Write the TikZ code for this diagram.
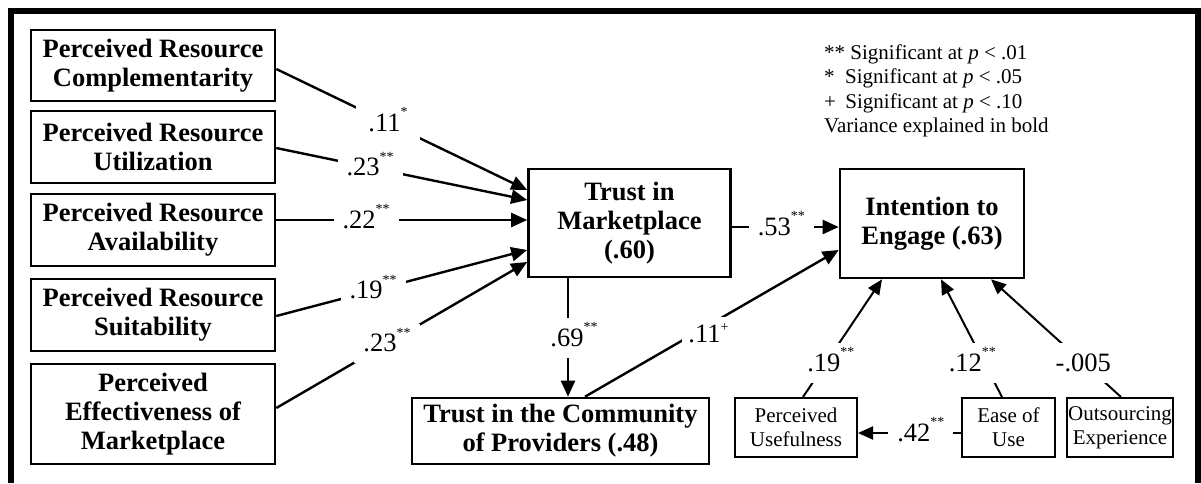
\documentclass[tikz,border=0pt]{standalone}
\usepackage{fontspec}
\setmainfont{Liberation Serif}
\usetikzlibrary{arrows.meta,calc}
\newcommand{\sigmark}[1]{\raisebox{14.5pt}{\fontsize{14}{14}\selectfont #1}\rule[-7pt]{0pt}{7pt}}
\newcommand{\plusmark}{\raisebox{11pt}{\fontsize{14}{14}\selectfont +}}
\begin{document}
\begin{tikzpicture}[x=1pt,y=-1pt,
  bigbox/.style={draw, line width=2.6pt, align=center, font=\bfseries\fontsize{26.5}{29}\selectfont, inner sep=0pt},
  smallbox/.style={draw, line width=2pt, align=center, font=\fontsize{21}{23.7}\selectfont, inner sep=0pt},
  conn/.style={line width=2.4pt, -{Triangle[length=16pt,width=14pt]}},
  thinconn/.style={line width=2pt, -{Triangle[length=15pt,width=13pt]}},
  lbl/.style={fill=white, font=\fontsize{26.5}{29}\selectfont, inner xsep=9pt, inner ysep=4pt},
  vlbl/.style={fill=white, font=\fontsize{26.5}{29}\selectfont, inner xsep=3pt, inner ysep=5pt},
  legend/.style={font=\fontsize{21}{24}\selectfont, anchor=base west, inner sep=0pt},
]
\useasboundingbox (0,0) rectangle (1201,483);
\fill[white] (0,0) rectangle (1201,483);
% frame (open at the bottom)
\draw[line width=5.5pt, line join=miter] (10.8,483) -- (10.8,10.8) -- (1198,10.8) -- (1198,483);

% boxes
\node[bigbox, minimum width=244pt, minimum height=71pt] (B1) at (153,65.5) {Perceived Resource\\Complementarity};
\node[bigbox, minimum width=244pt, minimum height=72pt] (B2) at (153,147) {Perceived Resource\\Utilization};
\node[bigbox, minimum width=244pt, minimum height=72pt] (B3) at (153,230) {Perceived Resource\\Availability};
\node[bigbox, minimum width=244pt, minimum height=72pt] (B4) at (153,315) {Perceived Resource\\Suitability};
\node[bigbox, minimum width=244pt, minimum height=100pt] (B5) at (153,414) {Perceived\\Effectiveness of\\Marketplace};
\node[bigbox, minimum width=202pt, minimum height=108pt] (TM) at (629.5,223) {Trust in\\Marketplace\\(.60)};
\node[bigbox, minimum width=184pt, minimum height=109pt] (IE) at (932,223.5) {Intention to\\Engage (.63)};
\node[bigbox, minimum width=297pt, minimum height=66pt] (TC) at (560.5,431) {Trust in the Community\\of Providers (.48)};
\node[smallbox, minimum width=122pt, minimum height=59pt] (PU) at (796,427.5) {Perceived\\Usefulness};
\node[smallbox, minimum width=93pt, minimum height=59pt] (EU) at (1008.5,427.5) {Ease of\\Use};
\node[smallbox, minimum width=106pt, minimum height=59pt] (OE) at (1120,427.5) {Outsourcing\\Experience};

% connectors
\draw[conn] ($(B1.east)+(0,3.5)$) -- node[lbl,pos=.445,inner xsep=12pt]{.11\sigmark{*}} ($(TM.west)+(0,-33)$);
\draw[conn] ($(B2.east)+(0,1)$) -- node[lbl,pos=.374]{.23\sigmark{**}} ($(TM.west)+(0,-23)$);
\draw[conn] ($(B3.east)+(0,-10)$) -- node[lbl,pos=.358]{.22\sigmark{**}} ($(TM.west)+(0,-3)$);
\draw[conn] ($(B4.east)+(0,1)$) -- node[lbl,pos=.386]{.19\sigmark{**}} ($(TM.west)+(0,27)$);
\draw[conn] ($(B5.east)+(0,-6)$) -- node[lbl,pos=.441]{.23\sigmark{**}} ($(TM.west)+(0,39)$);
\draw[conn] ($(TM.south)+(-61.5,0)$) -- node[vlbl,pos=.504,xshift=6pt]{.69\sigmark{**}} ($(TC.north)+(7.5,0)$);
\draw[conn] ($(TM.east)+(0,4)$) -- node[lbl,pos=.464]{.53\sigmark{**}} ($(IE.west)+(0,3.5)$);
\draw[conn] ($(TC.north)+(24.5,0)$) -- node[lbl,pos=.463,xshift=6pt,yshift=-4pt,inner xsep=6pt,inner ysep=6pt]{.11\plusmark} ($(IE.west)+(0,26.5)$);
\draw[thinconn] ($(PU.north)+(7,0)$) -- node[vlbl,pos=.29,xshift=5pt]{.19\sigmark{**}} ($(IE.south)+(-50,0)$);
\draw[thinconn] ($(EU.north)+(-6.5,0)$) -- node[vlbl,pos=.29,xshift=-12pt]{.12\sigmark{**}} ($(IE.south)+(9,0)$);
\draw[thinconn] ($(OE.north)+(1,0)$) -- node[vlbl,pos=.29,inner ysep=11pt]{-.005} ($(IE.south)+(59,0)$);
\draw[thinconn] ($(EU.west)+(0,5.5)$) -- node[lbl,pos=.39]{.42\sigmark{**}} ($(PU.east)+(0,5.5)$);

% legend
\node[legend] (L1) at (824,59) {** Significant at \textit{p} < .01};
\node[legend] (L2) at (824,83.5) {*\hspace{0.5em}Significant at \textit{p} < .05};
\node[legend] (L3) at (824,108) {+\hspace{0.45em}Significant at \textit{p} < .10};
\node[legend] (L4) at (824,132) {Variance explained in bold};
\end{tikzpicture}
\end{document}
